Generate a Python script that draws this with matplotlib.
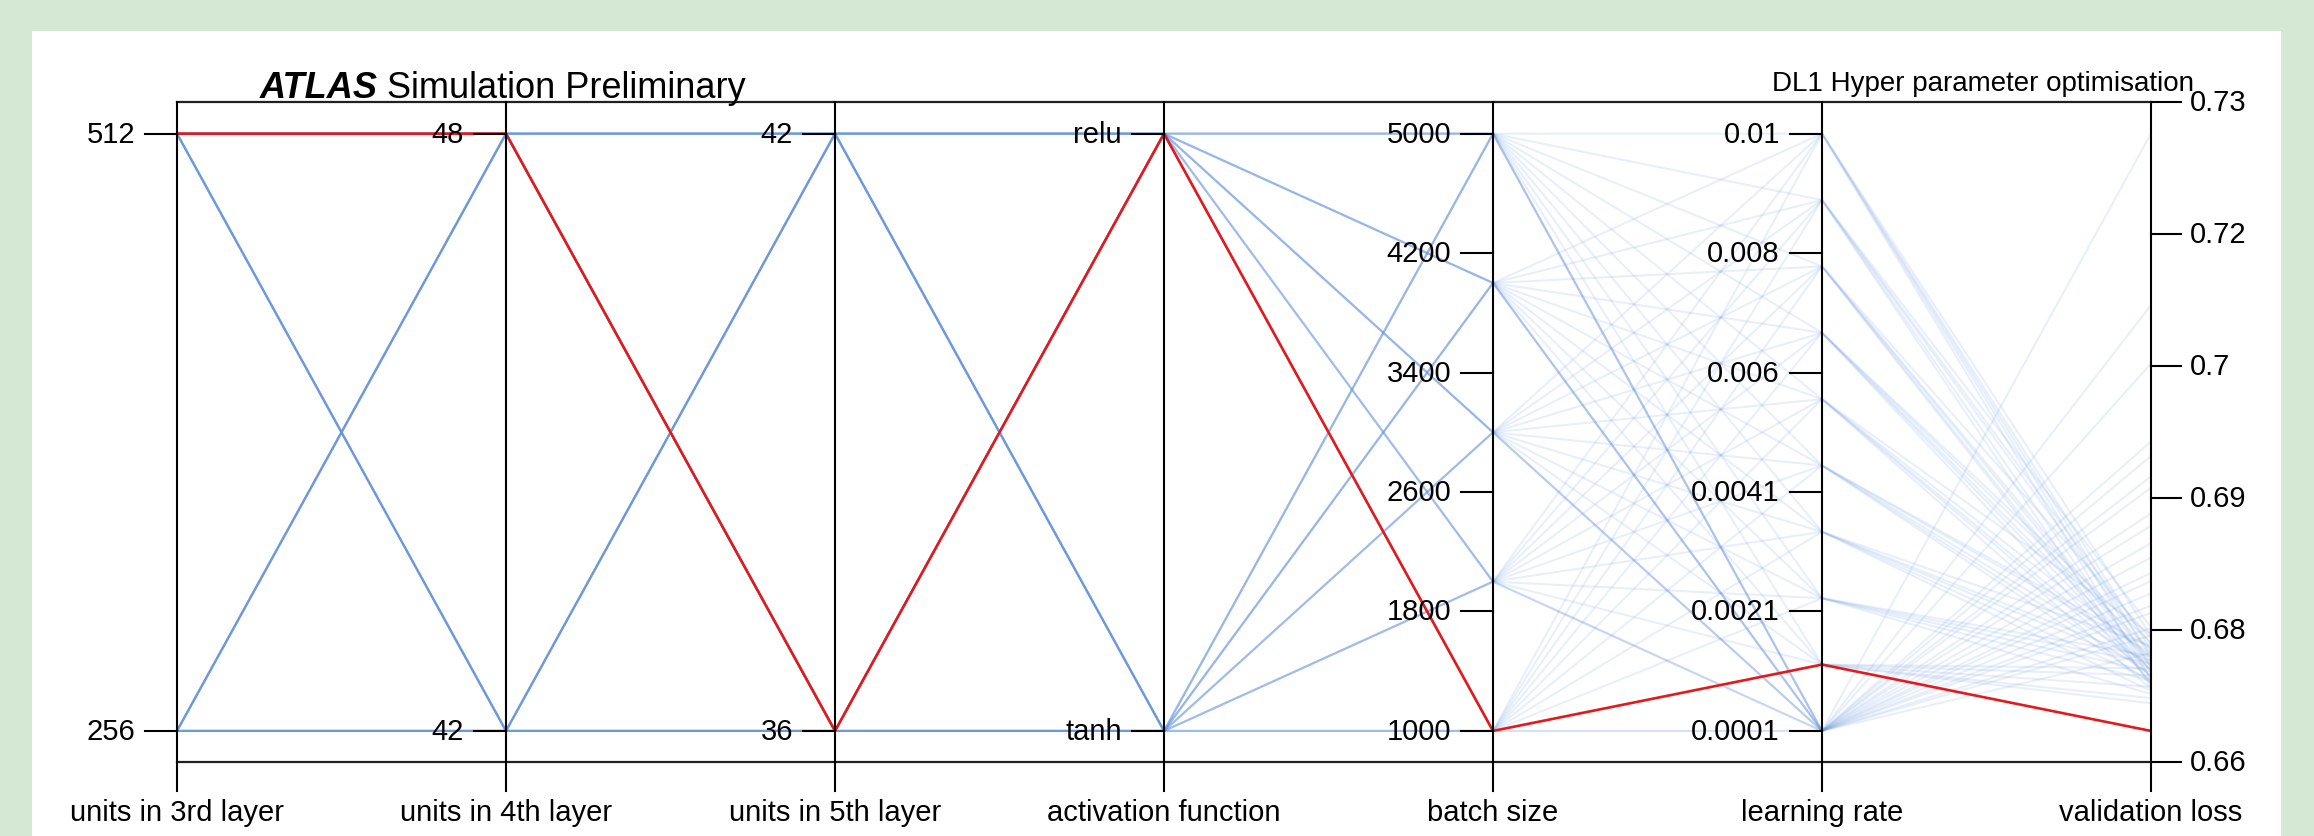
import numpy as np
import matplotlib.pyplot as plt
from matplotlib.patches import Rectangle

plt.rcParams['font.family'] = ['Liberation Sans', 'DejaVu Sans']

axis_names = ["units in 3rd layer", "units in 4th layer", "units in 5th layer",
              "activation function", "batch size", "learning rate", "validation loss"]

# one entry per trial of the hyper parameter scan (last one is the best trial)
units_3rd = [512, 512, 512, 512, 512, 512, 512, 512, 256, 256, 256, 256, 256, 256, 256, 256,
             512, 512, 512, 512, 512, 512, 512, 512, 256, 256, 256, 256, 256, 256, 256, 256,
             512, 512, 512, 512, 512, 512, 512, 512, 256, 256, 256, 256, 256, 256, 256, 256,
             512, 512, 512, 512, 512, 512, 512, 512, 256, 256, 256, 256, 256, 256, 256, 256,
             512]
units_4th = [48, 48, 48, 48, 42, 42, 42, 42, 48, 48, 48, 48, 42, 42, 42, 42,
             48, 48, 48, 48, 42, 42, 42, 42, 48, 48, 48, 48, 42, 42, 42, 42,
             48, 48, 48, 48, 42, 42, 42, 42, 48, 48, 48, 48, 42, 42, 42, 42,
             48, 48, 48, 48, 42, 42, 42, 42, 48, 48, 48, 48, 42, 42, 42, 42,
             48]
units_5th = [42, 42, 36, 36, 42, 42, 36, 36, 42, 42, 36, 36, 42, 42, 36, 36,
             42, 42, 36, 36, 42, 42, 36, 36, 42, 42, 36, 36, 42, 42, 36, 36,
             42, 42, 36, 36, 42, 42, 36, 36, 42, 42, 36, 36, 42, 42, 36, 36,
             42, 42, 36, 36, 42, 42, 36, 36, 42, 42, 36, 36, 42, 42, 36, 36,
             36]
activation = ["relu", "tanh", "relu", "tanh", "relu", "tanh", "relu", "tanh",
              "relu", "tanh", "relu", "tanh", "relu", "tanh", "relu", "tanh",
              "relu", "tanh", "relu", "tanh", "relu", "tanh", "relu", "tanh",
              "relu", "tanh", "relu", "tanh", "relu", "tanh", "relu", "tanh",
              "relu", "tanh", "relu", "tanh", "relu", "tanh", "relu", "tanh",
              "relu", "tanh", "relu", "tanh", "relu", "tanh", "relu", "tanh",
              "relu", "tanh", "relu", "tanh", "relu", "tanh", "relu", "tanh",
              "relu", "tanh", "relu", "tanh", "relu", "tanh", "relu", "tanh",
              "relu"]
batch_size = [5000, 4000, 3000, 2000, 1000, 5000, 4000, 3000, 2000, 1000,
              5000, 4000, 3000, 2000, 1000, 5000, 4000, 3000, 2000, 1000,
              5000, 4000, 3000, 2000, 1000, 5000, 4000, 3000, 2000, 1000,
              5000, 4000, 3000, 2000, 1000, 5000, 4000, 3000, 2000, 1000,
              5000, 4000, 3000, 2000, 1000, 5000, 4000, 3000, 2000, 1000,
              5000, 5000, 5000, 5000, 4000, 4000, 4000, 4000, 3000, 3000,
              3000, 2000, 2000, 1000,
              1000]
learning_rate = [0.01, 0.01, 0.01, 0.01, 0.01, 0.0089, 0.0089, 0.0089, 0.0089, 0.0089,
                 0.0078, 0.0078, 0.0078, 0.0078, 0.0078, 0.0067, 0.0067, 0.0067, 0.0067, 0.0067,
                 0.0056, 0.0056, 0.0056, 0.0056, 0.0056, 0.0045, 0.0045, 0.0045, 0.0045, 0.0045,
                 0.0034, 0.0034, 0.0034, 0.0034, 0.0034, 0.0023, 0.0023, 0.0023, 0.0023, 0.0023,
                 0.0012, 0.0012, 0.0012, 0.0012, 0.0012, 0.0001, 0.0001, 0.0001, 0.0001, 0.0001,
                 0.0001, 0.0001, 0.0001, 0.0001, 0.0001, 0.0001, 0.0001, 0.0001, 0.0001, 0.0001,
                 0.0001, 0.0001, 0.0001, 0.0001,
                 0.0012]
validation_loss = [0.6731, 0.6748, 0.6719, 0.6762, 0.6740, 0.6726, 0.6753, 0.6712, 0.6744, 0.6770,
                   0.6738, 0.6721, 0.6759, 0.6732, 0.6715, 0.6747, 0.6728, 0.6717, 0.6755, 0.6736,
                   0.6722, 0.6741, 0.6763, 0.6729, 0.6710, 0.6733, 0.6716, 0.6750, 0.6724, 0.6745,
                   0.6719, 0.6737, 0.6708, 0.6752, 0.6730, 0.6727, 0.6705, 0.6742, 0.6718, 0.6735,
                   0.6712, 0.6730, 0.6701, 0.6723, 0.6696, 0.6784, 0.6823, 0.6881, 0.6937, 0.6769,
                   0.7027, 0.7084, 0.6906, 0.6852, 0.6803, 0.6762, 0.6951, 0.6869, 0.7251, 0.6791,
                   0.6838, 0.6815, 0.6917, 0.6745,
                   0.6669]

W, H = 2314, 837
fig = plt.figure(figsize=(W / 100, H / 100), dpi=100)
fig.patch.set_facecolor('#d4e8d4')
fig.add_artist(Rectangle((32 / W, 0), (2281 - 32) / W, (H - 32) / H, transform=fig.transFigure,
                         facecolor='white', edgecolor='none', zorder=0))

ax = fig.add_axes([177 / W, (H - 763) / H, (2151 - 177) / W, 660 / H])
ylo, yhi = -0.052, 1.053
ax.set_xlim(0, 6)
ax.set_ylim(ylo, yhi)
ax.set_xticks([])
ax.set_yticks([])
ax.patch.set_alpha(0)
for s in ['left', 'right']:
    ax.spines[s].set_visible(False)
for s in ['top', 'bottom']:
    ax.spines[s].set_linewidth(1.6)
    ax.spines[s].set_color('#202020')


def scale(vals):
    v = np.asarray(vals, dtype=float)
    return (v - v.min()) / (v.max() - v.min())


act_y = np.array([1.0 if a == "relu" else 0.0 for a in activation])
Y = np.column_stack([scale(units_3rd), scale(units_4th), scale(units_5th), act_y,
                     scale(batch_size), scale(learning_rate), scale(validation_loss)])
xs = np.arange(7)
best = int(np.argmin(validation_loss))

for i, row in enumerate(Y):
    if i == best:
        continue
    ax.plot(xs, row, color='#6393dc', alpha=0.14, lw=1.5, zorder=2)
ax.plot(xs, Y[best], color='#e3191c', lw=1.9, zorder=4)

# vertical axes
for x in xs:
    ax.plot([x, x], [ylo - 0.049, yhi], color='k', lw=1.5, clip_on=False, zorder=6)

fs = 21
b_ticks = np.linspace(min(batch_size), max(batch_size), 6)
lr_ticks = np.linspace(min(learning_rate), max(learning_rate), 6)
tick_sets = [
    ([0, 1], ['256', '512']),
    ([0, 1], ['42', '48']),
    ([0, 1], ['36', '42']),
    ([0, 1], ['tanh', 'relu']),
    (np.linspace(0, 1, 6), ['%d' % b for b in b_ticks]),
    (np.linspace(0, 1, 6), ['%.2g' % v for v in lr_ticks]),
]
tl = 32 / 329.0
for x, (pos, labs) in zip(xs[:6], tick_sets):
    for p, lab in zip(pos, labs):
        ax.plot([x - tl, x], [p, p], color='k', lw=1.5, clip_on=False, zorder=6)
        ax.text(x - tl - 10 / 329.0, p, lab, ha='right', va='center', fontsize=fs, zorder=7)

vmin, vmax = min(validation_loss), max(validation_loss)
for t in np.linspace(ylo, yhi, 6):
    v = vmin + t * (vmax - vmin)
    ax.plot([6, 6 + 30 / 329.0], [t, t], color='k', lw=1.5, clip_on=False, zorder=6)
    ax.text(6 + 39 / 329.0, t, '%.2g' % v, ha='left', va='center', fontsize=fs, zorder=7)

for x, name in zip(xs, axis_names):
    ax.text(x, ylo - 50 / 598.0, name, ha='center', va='center', fontsize=fs)

# header texts
t1 = fig.text(260 / W, 1 - 98 / H, "ATLAS", fontsize=26, fontweight='bold', fontstyle='italic',
              ha='left', va='baseline')
fig.canvas.draw()
bb = t1.get_window_extent(fig.canvas.get_renderer())
fig.text((bb.x1 + 9) / W, 1 - 98 / H, "Simulation Preliminary", fontsize=26,
         ha='left', va='baseline')
fig.text(2194 / W, 1 - 91 / H, "DL1 Hyper parameter optimisation", fontsize=20,
         ha='right', va='baseline')

fig.savefig('out.png', dpi=100)
